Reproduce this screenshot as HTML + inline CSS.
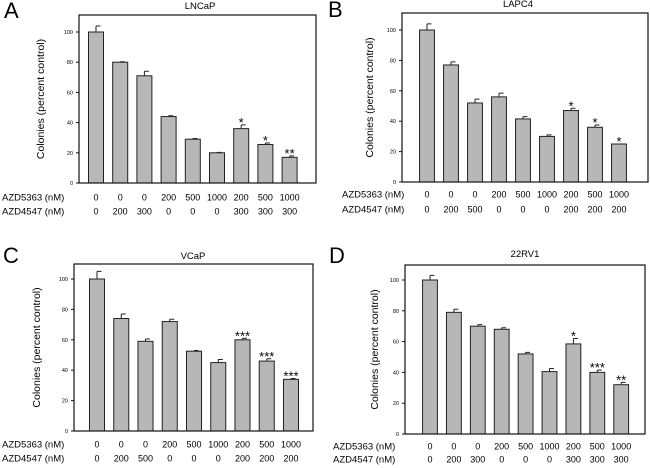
<!DOCTYPE html>
<html><head><meta charset="utf-8">
<style>
html,body{margin:0;padding:0;background:#fff;}
svg{display:block;font-family:"Liberation Sans",Arial,sans-serif;}
</style></head>
<body>
<svg id="fig" width="650" height="468" viewBox="0 0 650 468"></svg>
<script>
// Panel A - LNCaP
const catsA5363 = ["0","0","0","200","500","1000","200","500","1000"];
const catsA4547 = ["0","200","300","0","0","0","300","300","300"];
const valsA = [100,80,71,44,29,20,36,25.5,17];
const errsA = [4,0.3,3,0.5,0.5,0.3,2.5,1,1];
const starsA = ["","","","","","","*","*","**"];
// Panel B - LAPC4
const catsB5363 = ["0","0","0","200","500","1000","200","500","1000"];
const catsB4547 = ["0","200","500","0","0","0","200","200","200"];
const valsB = [100,77,52,56,41.5,30,47,36,25];
const errsB = [4,2,2.5,2.5,1.5,1,1.5,1.5,0];
const starsB = ["","","","","","","*","*","*"];
// Panel C - VCaP
const catsC5363 = ["0","0","0","200","500","1000","200","500","1000"];
const catsC4547 = ["0","200","500","0","0","0","200","200","200"];
const valsC = [100,74,59,72,52.5,45,60,46,34];
const errsC = [5,3,1.5,1.5,0.5,2,1,1.5,0.5];
const starsC = ["","","","","","","***","***","***"];
// Panel D - 22RV1
const catsD5363 = ["0","0","0","200","500","1000","200","500","1000"];
const catsD4547 = ["0","200","300","0","0","0","300","300","300"];
const valsD = [100,79,70,68,52,40.5,58.5,40,32];
const errsD = [3,2,1,1,1,2,3.5,1.5,1.5];
const starsD = ["","","","","","","*","***","**"];
const yTicks = [0,20,40,60,80,100];

const NS="http://www.w3.org/2000/svg";
const svg=document.getElementById('fig');
function mk(tag,attrs,parent,text){
  const e=document.createElementNS(NS,tag);
  for(const k in attrs)e.setAttribute(k,attrs[k]);
  if(text!==undefined)e.textContent=text;
  (parent||svg).appendChild(e);return e;
}
const panels=[
 {id:"a",letter:"A",title:"LNCaP",c1:catsA5363,c2:catsA4547,v:valsA,e:errsA,s:starsA,
  L:79,R:316,T:15,B:183,y100:32,x0:96,dx:24.2,r1:197,r2:211,lx:2,lt:4,ttx:200,tty:9,lettery:18,ytx:44},
 {id:"b",letter:"B",title:"LAPC4",c1:catsB5363,c2:catsB4547,v:valsB,e:errsB,s:starsB,
  L:402,R:648,T:13,B:182,y100:30,x0:427,dx:24,r1:194,r2:209,lx:342,lt:328,ttx:518,tty:7,lettery:17,ytx:373},
 {id:"c",letter:"C",title:"VCaP",c1:catsC5363,c2:catsC4547,v:valsC,e:errsC,s:starsC,
  L:74,R:313,T:264,B:431,y100:279,x0:97,dx:24.25,r1:444,r2:458,lx:2,lt:3,ttx:193,tty:259,lettery:263,ytx:40},
 {id:"d",letter:"D",title:"22RV1",c1:catsD5363,c2:catsD4547,v:valsD,e:errsD,s:starsD,
  L:405,R:645,T:265,B:434,y100:280,x0:430,dx:23.9,r1:446,r2:459,lx:333,lt:329,ttx:525,tty:257,lettery:263,ytx:378}
];
panels.forEach(p=>{
  const g=mk('g',{});
  
  
  const yS=v=>p.B-(p.B-p.y100)*v/100;
  const xS=i=>p.x0+p.dx*i;
  const bw=p.dx*0.62;
  const lt=mk('text',{x:p.lt,y:p.lettery,'font-size':22},g,p.letter);
  
  
  const tt=mk('text',{x:p.ttx,y:p.tty,'font-size':9.5,'text-anchor':'middle'},g,p.title);
  
  
  p.v.forEach((v,i)=>{
    const cx=xS(i);
    const r=mk('rect',{x:cx-bw/2,y:yS(v),width:bw,height:p.B-yS(v),fill:'#b7b7b7',stroke:'#222','stroke-width':1},g);
    
    
    const et=yS(v+p.e[i]);
    if(p.e[i]>0){
      const eb=mk('path',{d:`M${cx} ${yS(v)}V${et}M${cx} ${et}H${cx+bw*0.3}`,stroke:'#222','stroke-width':1,fill:'none'},g);
      
      
    }
    if(p.s[i]){
      const st=mk('text',{x:cx,y:et+2,'font-size':13,'text-anchor':'middle'},g,p.s[i]);
      
      
    }
    const t1=mk('text',{x:cx,y:p.r1+3.5,'font-size':9,'text-anchor':'middle'},g,p.c1[i]);
    
    
    const t2=mk('text',{x:cx,y:p.r2+3.5,'font-size':9,'text-anchor':'middle'},g,p.c2[i]);
    
    
  });
  const fr=mk('rect',{x:p.L,y:p.T,width:p.R-p.L,height:p.B-p.T,fill:'none',stroke:'#111','stroke-width':1.2},g);
  
  
  yTicks.forEach(t=>{
    const y=yS(t);
    mk('line',{x1:p.L-3,x2:p.L,y1:y,y2:y,stroke:'#111','stroke-width':1},g);
    const tl=mk('text',{x:p.L-6,y:y+2,'font-size':5.5,'text-anchor':'end'},g,String(t));
    
    
  });
  const cy=(p.T+p.B)/2;
  const yt=mk('text',{x:p.ytx,y:cy,'font-size':10.5,'text-anchor':'middle',transform:`rotate(-90 ${p.ytx} ${cy})`},g,'Colonies (percent control)');
  
  
  const r1=mk('text',{x:p.lx,y:p.r1+3.5,'font-size':9.5},g,'AZD5363 (nM)');
  
  
  const r2=mk('text',{x:p.lx,y:p.r2+3.5,'font-size':9.5},g,'AZD4547 (nM)');
  
  
});
</script>
</body></html>
